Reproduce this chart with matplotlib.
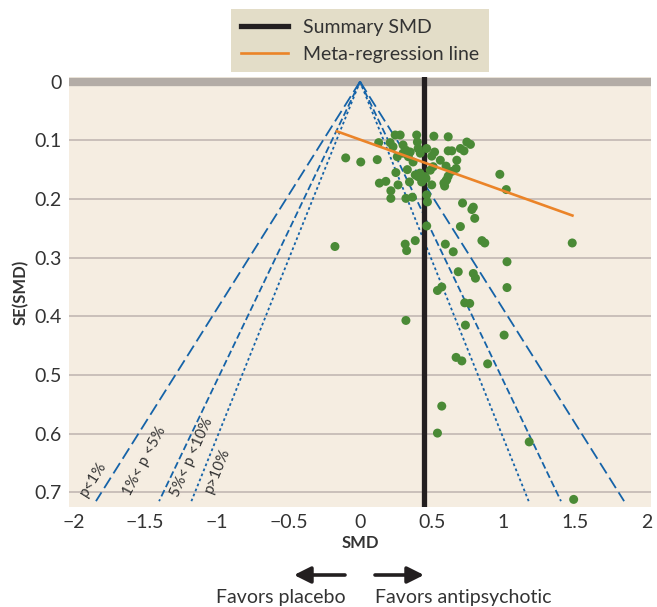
# Funnel plot of study SMDs vs. standard error, with pseudo-confidence contours,
# summary SMD and meta-regression line.

import numpy as np
import matplotlib
matplotlib.use("Agg")
import matplotlib.pyplot as plt
from matplotlib.lines import Line2D

plt.rcParams["font.family"] = ["Lato", "DejaVu Sans"]

# Data
smd = [
    -0.10, 0.005, 0.12, 0.13, 0.135, 0.18, 0.215, 0.215, 0.265, 0.25,
    0.26, 0.245, 0.28, 0.21, 0.23, 0.30, 0.32, 0.35, 0.30, 0.395,
    0.40, 0.405, 0.42, 0.465, 0.37, 0.33, 0.385, 0.405, 0.46, 0.43,
    0.345, 0.515, 0.615, 0.52, 0.50, 0.56, 0.51, 0.49, 0.60, 0.615,
    0.64, 0.675, 0.67, 0.615, 0.60, 0.59, 0.50, 0.70, 0.725, 0.745,
    0.77, 0.32, 0.365, 0.465, 0.47, 0.715, 0.78, 0.79, 0.80, 0.975,
    1.02, 0.585, 0.605, 0.64, 0.418, 0.453, 0.337,
    0.70, 0.465, -0.175, 0.315, 0.325, 0.385, 0.595, 0.65, 0.85,
    0.87, 0.685, 0.79, 0.805, 0.57, 0.54, 0.73, 0.765, 0.32, 0.735,
    1.005, 0.67, 0.71, 0.89, 0.57, 0.54, 1.18, 1.49, 1.025, 1.025, 1.48,
]
se = [
    0.130, 0.137, 0.133, 0.104, 0.173, 0.170, 0.186, 0.199, 0.176, 0.155,
    0.128, 0.091, 0.091, 0.104, 0.111, 0.108, 0.117, 0.120, 0.122, 0.091,
    0.103, 0.114, 0.122, 0.114, 0.137, 0.150, 0.159, 0.162, 0.165, 0.171,
    0.171, 0.093, 0.094, 0.120, 0.127, 0.134, 0.145, 0.151, 0.144, 0.118,
    0.118, 0.134, 0.148, 0.161, 0.169, 0.178, 0.176, 0.114, 0.118, 0.103,
    0.107, 0.199, 0.197, 0.193, 0.205, 0.207, 0.218, 0.214, 0.233, 0.158,
    0.184, 0.173, 0.167, 0.153, 0.156, 0.162, 0.128,
    0.247, 0.246, 0.281, 0.277, 0.288, 0.271, 0.277, 0.290, 0.271,
    0.275, 0.324, 0.327, 0.335, 0.350, 0.356, 0.377, 0.378, 0.407, 0.415,
    0.432, 0.470, 0.476, 0.481, 0.553, 0.599, 0.614, 0.712, 0.307, 0.351, 0.275,
]

summary_smd = 0.445
reg_x = [-0.17, 1.49]
reg_se = [0.084, 0.229]

# contour z-values and labels
z_vals = [2.576, 1.96, 1.645]
z_styles = [(0, (6.8, 2.8)), (0, (3.9, 1.8)), (0, (1.5, 1.5))]
se_max = 0.715

contour_labels = ["p<1%", "1%< p <5%", "5%< p <10%", "p>10%"]
label_x = [-1.86, -1.505, -1.174, -0.993]
label_se = [0.677, 0.646, 0.641, 0.662]
label_rot = [58, 62, 66, 68]

x_ticks = [-2, -1.5, -1, -0.5, 0, 0.5, 1, 1.5, 2]
x_ticklabels = ["\u22122", "\u22121.5", "\u22121", "\u22120.5", "0", "0.5", "1", "1.5", "2"]
y_ticks = [0, 0.1, 0.2, 0.3, 0.4, 0.5, 0.6, 0.7]
y_ticklabels = ["0", "0.1", "0.2", "0.3", "0.4", "0.5", "0.6", "0.7"]

# Colours
BG = "#F5EDE1"
GRID = "#C9BFB9"
TOPBAND = "#B3ACA6"
BLUE = "#1563A8"
GREEN = "#4A8A36"
ORANGE = "#EB8428"
BLACK = "#231F20"
TEXT = "#333333"

fig = plt.figure(figsize=(6.57, 6.07), dpi=100)
ax = fig.add_axes([0.105, 0.1647, 0.886, 0.7083])
ax.set_facecolor(BG)

ax.set_xlim(-2.03, 2.03)
ax.set_ylim(0.725, -0.0077)

for s in ax.spines.values():
    s.set_visible(False)

for yv in y_ticks[1:]:
    ax.axhline(yv, color=GRID, lw=1.4, zorder=1)
ax.axhline(0, color=TOPBAND, lw=6, zorder=1, solid_capstyle="butt")

# funnel contours
for z, ls in zip(z_vals, z_styles):
    for sgn in (-1, 1):
        ax.plot([0, sgn * z * se_max], [0, se_max], color=BLUE, lw=1.3,
                linestyle=ls, zorder=2)

for t, lx, ly, r in zip(contour_labels, label_x, label_se, label_rot):
    ax.text(lx, ly, t, rotation=r, ha="center", va="center", fontsize=11,
            color=TEXT, zorder=3)

ax.axvline(summary_smd, color=BLACK, lw=3.8, zorder=3)

ax.scatter(smd, se, s=42, color=GREEN, edgecolors="none", zorder=4)

ax.plot(reg_x, reg_se, color=ORANGE, lw=1.9, zorder=5, solid_capstyle="butt")

ax.set_xticks(x_ticks)
ax.set_xticklabels(x_ticklabels)
ax.set_yticks(y_ticks)
ax.set_yticklabels(y_ticklabels)
ax.tick_params(length=0, labelsize=14, colors=TEXT, pad=5)

ax.set_xlabel("SMD", fontsize=12, fontweight="bold", color=TEXT, labelpad=3)
ax.set_ylabel("SE(SMD)", fontsize=12, fontweight="bold", color=TEXT, labelpad=4)

# legend
handles = [
    Line2D([], [], color=BLACK, lw=3.8),
    Line2D([], [], color=ORANGE, lw=1.9),
]
leg = fig.legend(handles, ["Summary SMD", "Meta-regression line"],
                 loc="upper center", bbox_to_anchor=(0.548, 0.985),
                 fontsize=14, frameon=True, fancybox=False,
                 handlelength=2.4, handletextpad=0.8, borderpad=0.5,
                 labelspacing=0.5, borderaxespad=0)
leg.get_frame().set_facecolor("#E3DDC8")
leg.get_frame().set_edgecolor("none")
leg.get_frame().set_alpha(1)
for t in leg.get_texts():
    t.set_color(TEXT)

# direction arrows
arrow_style = dict(arrowstyle="-|>,head_length=1.0,head_width=0.5",
                   color=BLACK, lw=2.6, shrinkA=0, shrinkB=0)
fig.add_artist(plt.Annotation("", xy=(294 / 657, 1 - 575 / 607),
                              xytext=(345 / 657, 1 - 575 / 607),
                              xycoords="figure fraction", arrowprops=arrow_style))
fig.add_artist(plt.Annotation("", xy=(424 / 657, 1 - 575 / 607),
                              xytext=(375 / 657, 1 - 575 / 607),
                              xycoords="figure fraction", arrowprops=arrow_style))
fig.text(281 / 657, 1 - 598 / 607, "Favors placebo", ha="center", va="center",
         fontsize=14, color=TEXT)
fig.text(463 / 657, 1 - 598 / 607, "Favors antipsychotic", ha="center", va="center",
         fontsize=14, color=TEXT)

fig.savefig("out.png", dpi=100, facecolor="white")
